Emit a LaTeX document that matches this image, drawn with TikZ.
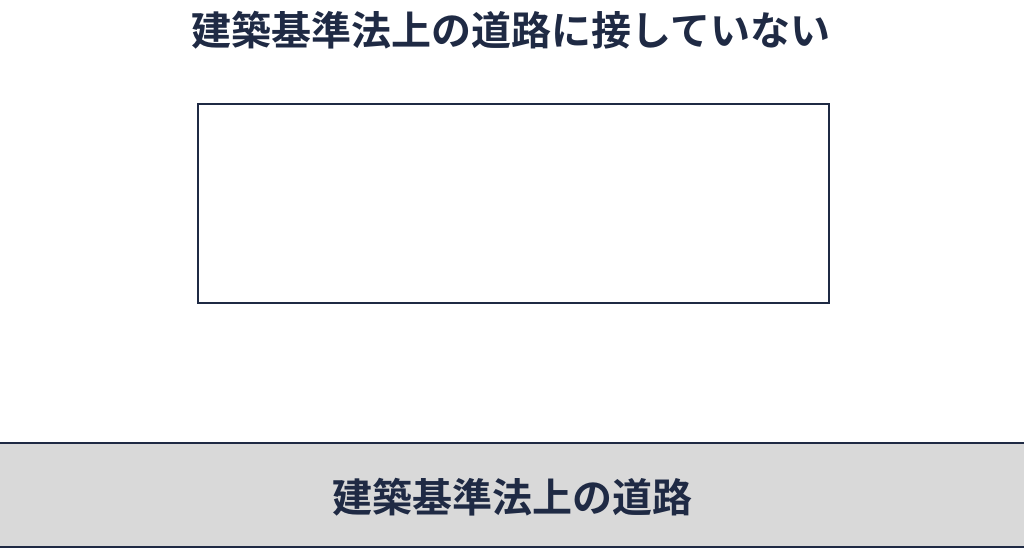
\documentclass[tikz,border=0pt]{standalone}
\usepackage{fontspec}
\newfontfamily\jp{Noto Sans CJK JP}[BoldFont={Noto Sans CJK JP Bold}]
\definecolor{navy}{HTML}{1F2A44}
\definecolor{roadgray}{HTML}{D9D9D9}
\tikzset{
  label text/.style={font=\jp\bfseries\fontsize{40}{42}\selectfont, text=navy, inner sep=0pt},
  lot/.style={draw=navy, line width=2.8pt, fill=white},
  edge line/.style={draw=navy, line width=2.8pt},
}
\begin{document}
\begin{tikzpicture}[x=1pt,y=-1pt]
\useasboundingbox[fill=white] (0,0) rectangle (1024,553);
\fill[roadgray] (0,443) rectangle (1024,547);
\coordinate (rl) at (0,443);
\coordinate (rr) at (1024,443);
\coordinate (bl) at (0,547);
\coordinate (br) at (1024,547);
\draw[edge line] (rl) -- (rr);
\draw[edge line] (bl) -- (br);
\node[lot, minimum width=631pt, minimum height=199pt, inner sep=0pt] (site) at (513.5,203.5) {};
\node[label text] (title) at (511,30) {建築基準法上の道路に接していない};
\node[label text] (road) at (512,497) {建築基準法上の道路};
\end{tikzpicture}
\end{document}
